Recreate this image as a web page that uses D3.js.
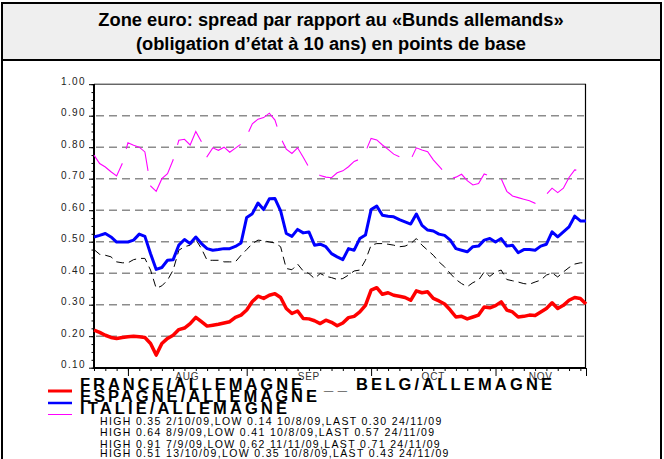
<!DOCTYPE html>
<html>
<head>
<meta charset="utf-8">
<script src="https://d3js.org/d3.v7.min.js"></script>
<style>
    body { margin: 0; background: #fff; }
    text { font-family: "Liberation Sans", Arial, sans-serif; }
</style>
</head>
<body>
<svg id="chart" width="664" height="459"></svg>
<script>
    // spreads vs Bund, one value per business day, 24/07/09 .. 24/11/09
    const france = [0.219, 0.212, 0.203, 0.196, 0.193, 0.196, 0.198, 0.200, 0.198, 0.196,
        0.177, 0.140, 0.177, 0.193, 0.203, 0.221, 0.226, 0.240, 0.260, 0.246,
        0.232, 0.235, 0.238, 0.242, 0.246, 0.260, 0.267, 0.283, 0.310, 0.327,
        0.320, 0.330, 0.335, 0.323, 0.288, 0.272, 0.280, 0.256, 0.255, 0.249,
        0.240, 0.251, 0.244, 0.233, 0.242, 0.259, 0.263, 0.277, 0.298, 0.346,
        0.354, 0.333, 0.338, 0.330, 0.327, 0.323, 0.314, 0.344, 0.338, 0.341,
        0.320, 0.312, 0.302, 0.283, 0.261, 0.263, 0.255, 0.261, 0.267, 0.293,
        0.290, 0.297, 0.309, 0.283, 0.277, 0.261, 0.263, 0.267, 0.266, 0.277,
        0.288, 0.306, 0.288, 0.298, 0.314, 0.323, 0.320, 0.302];
    const espagne = [0.515, 0.520, 0.526, 0.515, 0.499, 0.499, 0.499, 0.505, 0.524, 0.517,
        0.462, 0.412, 0.418, 0.441, 0.443, 0.489, 0.507, 0.494, 0.515, 0.494,
        0.478, 0.473, 0.475, 0.478, 0.478, 0.485, 0.496, 0.577, 0.589, 0.623,
        0.602, 0.636, 0.637, 0.598, 0.526, 0.517, 0.539, 0.528, 0.531, 0.489,
        0.492, 0.484, 0.462, 0.452, 0.443, 0.478, 0.473, 0.510, 0.521, 0.602,
        0.613, 0.584, 0.581, 0.579, 0.570, 0.563, 0.556, 0.588, 0.552, 0.537,
        0.534, 0.524, 0.520, 0.505, 0.478, 0.473, 0.468, 0.484, 0.486, 0.505,
        0.510, 0.499, 0.510, 0.486, 0.489, 0.465, 0.475, 0.475, 0.473, 0.486,
        0.492, 0.531, 0.515, 0.531, 0.547, 0.581, 0.566, 0.566];
    const italie = [0.775, 0.748, 0.737, 0.722, 0.709, 0.748, 0.814, 0.806, 0.800, 0.785,
        0.677, 0.660, 0.700, 0.716, 0.760, 0.822, 0.825, 0.807, 0.850, 0.817,
        0.770, 0.798, 0.790, 0.800, 0.784, 0.797, 0.810, 0.835, 0.874, 0.889,
        0.894, 0.908, 0.886, 0.830, 0.794, 0.780, 0.798, 0.768, 0.736, 0.722,
        0.710, 0.705, 0.703, 0.719, 0.725, 0.738, 0.755, 0.762, 0.785, 0.828,
        0.823, 0.807, 0.793, 0.778, 0.770, 0.765, 0.760, 0.798, 0.791, 0.786,
        0.760, 0.740, 0.720, 0.700, 0.705, 0.714, 0.694, 0.680, 0.685, 0.715,
        0.708, 0.705, 0.700, 0.660, 0.645, 0.640, 0.635, 0.630, 0.622, 0.635,
        0.650, 0.670, 0.656, 0.670, 0.704, 0.728, 0.725, 0.710];
    const belg = [0.475, 0.460, 0.457, 0.452, 0.436, 0.433, 0.433, 0.443, 0.447, 0.447,
        0.410, 0.352, 0.360, 0.378, 0.410, 0.473, 0.484, 0.489, 0.507, 0.478,
        0.441, 0.441, 0.441, 0.436, 0.436, 0.436, 0.457, 0.475, 0.494, 0.505,
        0.503, 0.499, 0.496, 0.484, 0.415, 0.411, 0.429, 0.407, 0.399, 0.383,
        0.399, 0.390, 0.386, 0.380, 0.383, 0.394, 0.407, 0.410, 0.441, 0.489,
        0.494, 0.494, 0.492, 0.489, 0.484, 0.486, 0.494, 0.510, 0.489, 0.473,
        0.457, 0.436, 0.420, 0.399, 0.380, 0.367, 0.357, 0.370, 0.378, 0.404,
        0.390, 0.404, 0.410, 0.380, 0.376, 0.372, 0.367, 0.365, 0.372, 0.378,
        0.394, 0.401, 0.388, 0.404, 0.418, 0.429, 0.433, 0.433];

    const yTicks = [0.10, 0.20, 0.30, 0.40, 0.50, 0.60, 0.70, 0.80, 0.90, 1.00];
    const gridTicks = [0.20, 0.30, 0.40, 0.50, 0.60, 0.70, 0.80, 0.90];
    const monthLabels = ["AUG", "SEP", "OCT", "NOV"];
    const titleLines = ["Zone euro: spread par rapport au «Bunds allemands»",
        "(obligation d’état à 10 ans) en points de base"];
    const highLines = [
        "HIGH 0.35 2/10/09,LOW 0.14 10/8/09,LAST 0.30 24/11/09",
        "HIGH 0.64 8/9/09,LOW 0.41 10/8/09,LAST 0.57 24/11/09",
        "HIGH 0.91 7/9/09,LOW 0.62 11/11/09,LAST 0.71 24/11/09",
        "HIGH 0.51 13/10/09,LOW 0.35 10/8/09,LAST 0.43 24/11/09"];

    // business days on the x axis
    const days = d3.timeDay.range(new Date(2009, 6, 24), new Date(2009, 10, 25))
        .filter(d => d.getDay() != 0 && d.getDay() != 6);
    const monthStarts = [];
    days.forEach((d, i) => { if (i > 0 && d.getMonth() != days[i - 1].getMonth()) monthStarts.push(i); });

    var svg = d3.select("#chart");

    // frame + title box
    svg.append("rect").attr("x", 2).attr("y", 3).attr("width", 659).attr("height", 470)
        .attr("fill", "#fff").attr("stroke", "#000").attr("stroke-width", 2);
    svg.append("rect").attr("x", 2).attr("y", 3).attr("width", 659).attr("height", 57)
        .attr("fill", "#efefef").attr("stroke", "#000").attr("stroke-width", 2);
    svg.selectAll(".title").data(titleLines).enter().append("text")
        .attr("x", 331).attr("y", (d, i) => 26 + i * 24)
        .attr("text-anchor", "middle").attr("font-size", 18.3).attr("font-weight", "bold")
        .attr("fill", "#000").text(d => d);

    var x = d3.scaleLinear().domain([0, days.length - 1]).range([94, 586]);
    var y = d3.scaleLinear().domain([0.10, 1.00]).range([367.7, 84.2]);

    // grid
    svg.append("g").selectAll("line").data(gridTicks).enter().append("line")
        .attr("x1", 96).attr("x2", 584)
        .attr("y1", d => y(d)).attr("y2", d => y(d))
        .attr("stroke", "#8c8c8c").attr("stroke-width", 1.5).attr("stroke-dasharray", "8,5");

    // top and right border of plot
    svg.append("line").attr("x1", 94).attr("x2", 586).attr("y1", 84.2).attr("y2", 84.2)
        .attr("stroke", "#222").attr("stroke-width", 1);
    svg.append("line").attr("x1", 585.5).attr("x2", 585.5).attr("y1", 84).attr("y2", 368)
        .attr("stroke", "#000").attr("stroke-width", 1.2);

    // y axis: minor and major ticks
    svg.append("g").attr("transform", "translate(94,0)")
        .call(d3.axisLeft(y).tickValues(d3.range(0.1, 1.001, 0.025)).tickSize(2.5).tickFormat(""))
        .call(g => g.select(".domain").remove())
        .selectAll("line").attr("stroke", "#000");
    var yAxis = svg.append("g").attr("transform", "translate(94,0)")
        .call(d3.axisLeft(y).tickValues(yTicks).tickSize(5).tickFormat(d3.format(".2f")));
    yAxis.select(".domain").attr("stroke-width", 2).attr("d", "M0,84V368");
    yAxis.selectAll("text").attr("font-size", 10).attr("font-family", "Liberation Sans, Arial")
        .attr("letter-spacing", 1.4).attr("fill", "#222").attr("x", -8).attr("dy", "0.0em");

    // x axis: minor ticks, monthly major ticks
    svg.append("g").attr("transform", "translate(0,368)")
        .call(d3.axisBottom(x).tickValues(d3.range(0, days.length, 2)).tickSize(3).tickFormat(""))
        .call(g => g.select(".domain").attr("stroke-width", 2).attr("d", "M93,0H586"));
    svg.append("g").attr("transform", "translate(0,368)")
        .call(d3.axisBottom(x).tickValues(monthStarts.concat([days.length - 1])).tickSize(8).tickFormat(""))
        .call(g => g.select(".domain").remove());
    var bounds = monthStarts.concat([days.length - 1]);
    svg.selectAll(".month").data(monthLabels).enter().append("text")
        .attr("x", (d, i) => (x(bounds[i]) + x(bounds[i + 1])) / 2)
        .attr("y", 380).attr("text-anchor", "middle").attr("font-size", 10)
        .attr("letter-spacing", 0.8).attr("fill", "#333").text(d => d);

    // series
    var line = d3.line().x((d, i) => x(i)).y(d => y(d));
    svg.append("path").datum(italie).attr("d", line).attr("fill", "none")
        .attr("stroke", "#ff00ff").attr("stroke-width", 1.1).attr("stroke-dasharray", "45,15");
    svg.append("path").datum(belg).attr("d", line).attr("fill", "none")
        .attr("stroke", "#000").attr("stroke-width", 1).attr("stroke-dasharray", "8,5");
    svg.append("path").datum(espagne).attr("d", line).attr("fill", "none")
        .attr("stroke", "#0000ff").attr("stroke-width", 3).attr("stroke-linejoin", "round");
    svg.append("path").datum(france).attr("d", line).attr("fill", "none")
        .attr("stroke", "#ff0000").attr("stroke-width", 3.5).attr("stroke-linejoin", "round");

    // legend
    const legend = [
        { name: "FRANCE/ALLEMAGNE", color: "#ff0000", w: 3, y: 390, len: 222 },
        { name: "ESPAGNE/ALLEMAGNE", color: "#0000ff", w: 2.5, y: 402, len: 237 },
        { name: "ITALIE/ALLEMAGNE", color: "#ff00ff", w: 1, y: 413.5, len: 207 }];
    legend.forEach(l => {
        svg.append("line").attr("x1", 48).attr("x2", 72).attr("y1", l.y + 1).attr("y2", l.y + 1)
            .attr("stroke", l.color).attr("stroke-width", l.w);
        svg.append("text").attr("x", 80).attr("y", l.y).attr("font-size", 16.5).attr("font-weight", "bold")
            .attr("textLength", l.len).attr("lengthAdjust", "spacing").text(l.name);
    });
    svg.append("text").attr("x", 324).attr("y", 390).attr("font-size", 16.5).attr("font-weight", "bold")
        .text("_ _");
    svg.append("text").attr("x", 356).attr("y", 390).attr("font-size", 16.5).attr("font-weight", "bold")
        .attr("textLength", 196).attr("lengthAdjust", "spacing").text("BELG/ALLEMAGNE");

    svg.selectAll(".high").data(highLines).enter().append("text")
        .attr("x", 100).attr("y", (d, i) => [425, 436, 448, 456.5][i])
        .attr("font-size", 10.5).attr("letter-spacing", 1.35).attr("fill", "#000").text(d => d);
</script>
</body>
</html>
